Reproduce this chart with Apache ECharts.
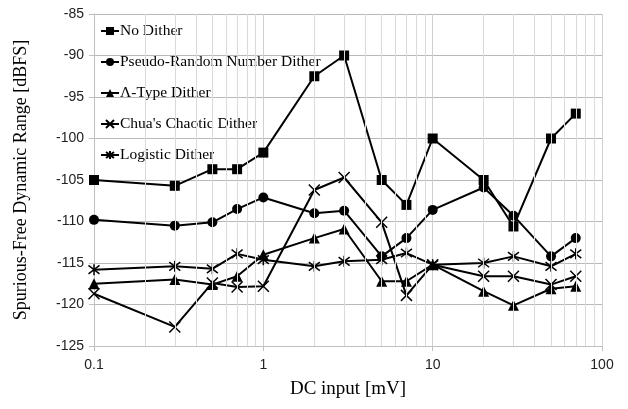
<!DOCTYPE html>
<html>
<head>
<meta charset="utf-8">
<script src="https://cdn.jsdelivr.net/npm/echarts@6/dist/echarts.min.js"></script>
<style>
  html, body { margin: 0; padding: 0; background: #fff; }
  #chart { width: 628px; height: 409px; }
</style>
</head>
<body>
<div id="chart"></div>
<script>
var dcInput = [0.1, 0.3, 0.5, 0.7, 1, 2, 3, 5, 7, 10, 20, 30, 50, 70];
var noDither = [-105, -105.7, -103.7, -103.7, -101.7, -92.5, -90, -105, -108, -100, -105, -110.6, -100, -97];
var pseudoRandom = [-109.8, -110.5, -110.1, -108.5, -107.1, -109, -108.7, -114.2, -112, -108.6, -105.9, -109.3, -114.2, -112];
var lambdaType = [-117.5, -117, -117.6, -116.6, -114, -112, -110.9, -117.2, -117.2, -115.2, -118.4, -120.1, -118.1, -117.8];
var chuaChaotic = [-118.7, -122.7, -117.4, -117.9, -117.8, -106.2, -104.7, -110.1, -118.9, -115.2, -116.6, -116.6, -117.6, -116.6];
var logistic = [-115.8, -115.4, -115.7, -113.9, -114.6, -115.4, -114.8, -114.6, -113.8, -115.2, -115, -114.2, -115.4, -113.9];
var minorGrid = [0.2, 0.3, 0.4, 0.5, 0.6, 0.7, 0.8, 0.9, 2, 3, 4, 5, 6, 7, 8, 9, 20, 30, 40, 50, 60, 70, 80, 90];

function pairs(ys) {
  return dcInput.map(function (x, i) { return [x, ys[i]]; });
}

var serifFont = '"Liberation Serif", "DejaVu Serif", serif';
var sansFont = '"Liberation Sans", Arial, sans-serif';

var xSymbol = 'path://M0,0L10,10M10,0L0,10';
var starSymbol = 'path://M0,0L10,10M10,0L0,10M5,-1.5L5,11.5';

function lineSeries(name, ys, symbol, size, strokeOnly) {
  return {
    name: name,
    type: 'line',
    data: pairs(ys),
    symbol: symbol,
    symbolSize: size,
    showAllSymbol: true,
    z: 3,
    lineStyle: { color: '#000', width: 2 },
    itemStyle: strokeOnly
      ? { color: 'none', borderColor: '#000', borderWidth: 1.5 }
      : { color: '#000', borderColor: '#000', borderWidth: 0 },
    emphasis: { disabled: true }
  };
}

var myChart = echarts.init(document.getElementById('chart'));
var option = {
  animation: false,
  backgroundColor: '#fff',
  grid: { left: 94, right: 26, top: 14, bottom: 63 },
  legend: {
    orient: 'vertical',
    left: 95,
    top: 18,
    itemWidth: 18,
    itemHeight: 10,
    itemGap: 15,
    textStyle: { fontFamily: serifFont, fontSize: 15.5, color: '#000', padding: [0, 0, 0, -4] },
    data: ['No Dither', 'Pseudo-Random Number Dither', 'Λ-Type Dither', "Chua's Chaotic Dither", 'Logistic Dither']
  },
  xAxis: {
    type: 'log',
    logBase: 10,
    min: 0.1,
    max: 100,
    name: 'DC input [mV]',
    nameLocation: 'middle',
    nameGap: 34,
    nameTextStyle: { fontFamily: serifFont, fontSize: 19, color: '#000' },
    axisLine: { show: true, lineStyle: { color: '#bfbfbf', width: 1 } },
    axisTick: { show: true, length: 5, lineStyle: { color: '#bfbfbf' } },
    axisLabel: { fontFamily: sansFont, fontSize: 14, color: '#222', margin: 12 },
    splitLine: { show: true, lineStyle: { color: '#cfcfcf', width: 1 } }
  },
  yAxis: {
    type: 'value',
    min: -125,
    max: -85,
    interval: 5,
    name: 'Spurious-Free Dynamic Range [dBFS]',
    nameLocation: 'middle',
    nameGap: 64,
    nameTextStyle: { fontFamily: serifFont, fontSize: 18, color: '#000' },
    axisLine: { show: true, lineStyle: { color: '#bfbfbf', width: 1 } },
    axisTick: { show: true, length: 5, lineStyle: { color: '#bfbfbf' } },
    axisLabel: { fontFamily: sansFont, fontSize: 14, color: '#222', margin: 10 },
    splitLine: { show: true, lineStyle: { color: '#b8b8b8', width: 1 } }
  },
  series: [
    {
      name: 'minor grid',
      type: 'line',
      data: [],
      z: 1,
      silent: true,
      markLine: {
        silent: true,
        symbol: 'none',
        label: { show: false },
        lineStyle: { color: '#dadada', type: 'solid', width: 1 },
        data: minorGrid.map(function (v) { return { xAxis: v }; })
      }
    },
    lineSeries('No Dither', noDither, 'rect', 10, false),
    lineSeries('Pseudo-Random Number Dither', pseudoRandom, 'circle', 10, false),
    lineSeries('Λ-Type Dither', lambdaType, 'triangle', 11, false),
    lineSeries("Chua's Chaotic Dither", chuaChaotic, xSymbol, 11, true),
    lineSeries('Logistic Dither', logistic, starSymbol, 11, true)
  ]
};
myChart.setOption(option);
window.addEventListener('resize', function () {
  myChart.resize();
});
</script>
</body>
</html>
